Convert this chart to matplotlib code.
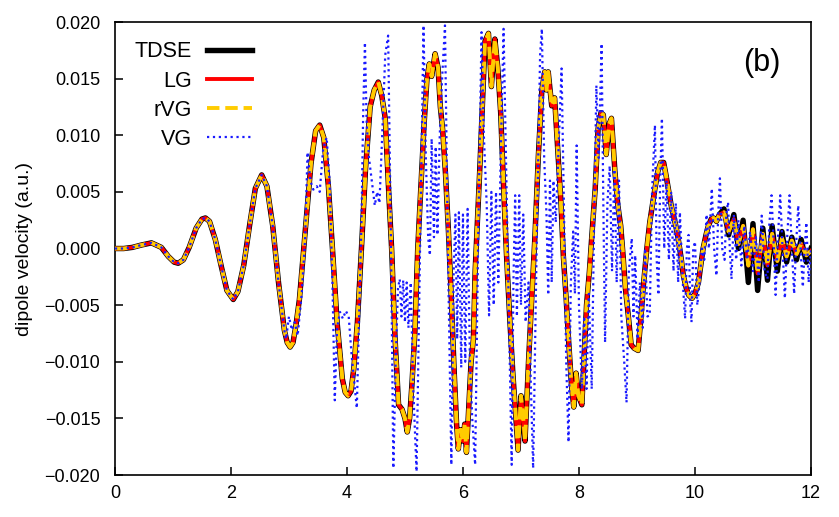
import numpy as np
import matplotlib.pyplot as plt
from matplotlib.ticker import FuncFormatter

plt.rcParams['font.family'] = ['Liberation Sans', 'DejaVu Sans']

# shared slow part of TDSE / LG / rVG (time, dipole velocity)
t_main = [0.00, 0.15, 0.30, 0.45, 0.63, 0.80, 0.92, 1.02, 1.09, 1.18, 1.28, 1.40, 1.50, 1.56,
          1.63, 1.73, 1.83, 1.93, 2.04, 2.12, 2.22, 2.32, 2.42, 2.53, 2.62, 2.72, 2.82, 2.92,
          2.97, 3.02, 3.07, 3.12, 3.18, 3.28, 3.38, 3.46, 3.53, 3.60, 3.68, 3.75, 3.83, 3.92,
          3.97, 4.02, 4.07, 4.12, 4.18, 4.25, 4.32, 4.40, 4.47, 4.54, 4.60, 4.66, 4.72, 4.77,
          4.83, 4.89, 4.95, 5.00, 5.04, 5.08, 5.12, 5.17, 5.22, 5.28, 5.33, 5.38, 5.42, 5.46,
          5.52, 5.57, 5.61, 5.65, 5.70, 5.75, 5.80, 5.85, 5.89, 5.92, 5.96, 6.00, 6.03, 6.06,
          6.10, 6.14, 6.18, 6.21, 6.25, 6.29, 6.33, 6.38, 6.44, 6.49, 6.55, 6.60, 6.65, 6.70,
          6.75, 6.81, 6.86, 6.90, 6.95, 7.00, 7.04, 7.07, 7.10, 7.13, 7.18, 7.24, 7.30, 7.36,
          7.41, 7.44, 7.47, 7.53, 7.58, 7.64, 7.69, 7.73, 7.78, 7.82, 7.87, 7.91, 7.95, 7.99,
          8.05, 8.09, 8.13, 8.18, 8.22, 8.28, 8.33, 8.38, 8.42, 8.47, 8.52, 8.56, 8.62, 8.67,
          8.72, 8.76, 8.80, 8.85, 8.90, 8.95, 9.02, 9.07, 9.11, 9.17, 9.22, 9.27, 9.31, 9.36,
          9.41, 9.46, 9.50, 9.54, 9.59, 9.63, 9.67, 9.71, 9.76, 9.80, 9.85, 9.89, 9.95, 10.00,
          10.06, 10.10, 10.14, 10.19, 10.23, 10.28, 10.32, 10.37, 10.42]
d_main = [0.0000, 0.0000, 0.0001, 0.0003, 0.0005, 0.0001, -0.0007, -0.0012, -0.0013, -0.0010,
          0.0001, 0.0018, 0.0026, 0.0027, 0.0024, 0.0008, -0.0015, -0.0037, -0.0045, -0.0038,
          -0.0015, 0.0020, 0.0053, 0.0065, 0.0055, 0.0020, -0.0030, -0.0072, -0.0083, -0.0087,
          -0.0083, -0.0068, -0.0045, 0.0015, 0.0075, 0.0104, 0.0109, 0.0098, 0.0055, 0.0000,
          -0.0065, -0.0115, -0.0127, -0.0130, -0.0126, -0.0105, -0.0065, 0.0000, 0.0070, 0.0125,
          0.0140, 0.0147, 0.0135, 0.0115, 0.0050, 0.0000, -0.0080, -0.0138, -0.0142, -0.0150,
          -0.0162, -0.0150, -0.0120, -0.0075, 0.0000, 0.0060, 0.0110, 0.0150, 0.0163, 0.0152,
          0.0172, 0.0160, 0.0125, 0.0105, 0.0065, 0.0015, -0.0045, -0.0110, -0.0155, -0.0177,
          -0.0160, -0.0170, -0.0155, -0.0180, -0.0140, -0.0100, -0.0080, -0.0020, 0.0025, 0.0070,
          0.0120, 0.0183, 0.0190, 0.0143, 0.0185, 0.0160, 0.0120, 0.0055, -0.0005, -0.0065,
          -0.0110, -0.0140, -0.0178, -0.0130, -0.0150, -0.0170, -0.0135, -0.0100, -0.0050, 0.0010,
          0.0082, 0.0140, 0.0156, 0.0140, 0.0156, 0.0126, 0.0133, 0.0082, 0.0040, -0.0006,
          -0.0045, -0.0080, -0.0120, -0.0140, -0.0110, -0.0130, -0.0138, -0.0095, -0.0050, -0.0020,
          0.0010, 0.0053, 0.0106, 0.0120, 0.0118, 0.0083, 0.0110, 0.0115, 0.0068, 0.0038,
          0.0020, -0.0006, -0.0035, -0.0059, -0.0085, -0.0088, -0.0090, -0.0060, -0.0033, 0.0000,
          0.0023, 0.0040, 0.0053, 0.0068, 0.0076, 0.0076, 0.0065, 0.0053, 0.0038, 0.0029,
          0.0020, 0.0009, -0.0008, -0.0024, -0.0035, -0.0041, -0.0044, -0.0040, -0.0030, -0.0015,
          0.0000, 0.0012, 0.0020, 0.0026, 0.0027, 0.0024, 0.0030]

# tails after t = 10.5
t_tail = [10.50, 10.58, 10.67, 10.75, 10.83, 10.92, 11.00, 11.08, 11.17, 11.25, 11.33, 11.42,
          11.50, 11.58, 11.67, 11.75, 11.83, 11.92, 12.00]
tdse_tail = [0.0035, 0.0012, 0.0030, 0.0000, 0.0025, -0.0030, 0.0022, -0.0037, 0.0018, -0.0028,
             0.0020, -0.0020, 0.0015, -0.0012, 0.0010, -0.0010, 0.0008, -0.0012, 0.0000]
lg_tail = [0.0032, 0.0015, 0.0026, 0.0004, 0.0020, -0.0015, 0.0017, -0.0022, 0.0013, -0.0015,
           0.0013, -0.0011, 0.0009, -0.0007, 0.0007, -0.0005, 0.0004, -0.0006, -0.0002]

# velocity gauge: follows the others up to ~2.9, then strongly oscillating
t_vg = [2.95, 3.00, 3.05, 3.10, 3.15, 3.22, 3.28, 3.32, 3.37, 3.42, 3.48, 3.53, 3.59, 3.65,
        3.70, 3.75, 3.79, 3.83, 3.88, 3.93, 3.98, 4.03, 4.08, 4.13, 4.17, 4.21, 4.25, 4.28,
        4.31, 4.34, 4.38, 4.43, 4.48, 4.52, 4.56, 4.60, 4.66, 4.71, 4.76, 4.80, 4.84, 4.88,
        4.91, 4.94, 4.97, 5.00, 5.03, 5.06, 5.10, 5.14, 5.20, 5.26, 5.32, 5.36, 5.40, 5.43,
        5.46, 5.50, 5.53, 5.56, 5.60, 5.64, 5.69, 5.74, 5.80, 5.84, 5.87, 5.90, 5.93, 5.97,
        6.00, 6.04, 6.08, 6.12, 6.16, 6.21, 6.26, 6.32, 6.36, 6.41, 6.45, 6.49, 6.53, 6.57,
        6.61, 6.65, 6.70, 6.77, 6.84, 6.87, 6.90, 6.93, 6.97, 7.00, 7.04, 7.08, 7.13, 7.17,
        7.21, 7.27, 7.33, 7.36, 7.40, 7.44, 7.47, 7.50, 7.53, 7.56, 7.60, 7.65, 7.70, 7.74,
        7.78, 7.82, 7.86, 7.90, 7.93, 7.96, 8.00, 8.05, 8.09, 8.13, 8.17, 8.22, 8.26, 8.30,
        8.34, 8.39, 8.42, 8.45, 8.49, 8.53, 8.57, 8.61, 8.65, 8.69, 8.73, 8.78, 8.82, 8.86,
        8.91, 8.94, 8.97, 9.01, 9.05, 9.10, 9.14, 9.18, 9.22, 9.26, 9.31, 9.34, 9.37, 9.40,
        9.43, 9.47, 9.51, 9.55, 9.59, 9.63, 9.67, 9.71, 9.74, 9.79, 9.83, 9.86, 9.89, 9.92,
        9.94, 9.97, 10.00, 10.04, 10.08, 10.12, 10.16, 10.20, 10.24, 10.29, 10.33, 10.37,
        10.40, 10.43, 10.47, 10.51, 10.54, 10.57, 10.60, 10.63, 10.67, 10.71, 10.75, 10.80,
        10.85, 10.90, 10.95, 11.00, 11.05, 11.10, 11.15, 11.20, 11.25, 11.28, 11.32, 11.36,
        11.39, 11.43, 11.47, 11.51, 11.55, 11.59, 11.63, 11.67, 11.71, 11.74, 11.78, 11.82,
        11.86, 11.89, 11.92, 11.96, 12.00]
d_vg = [-0.0080, -0.0060, -0.0072, -0.0065, -0.0077, -0.0040, 0.0010, 0.0085, 0.0060, 0.0052,
        0.0055, 0.0050, 0.0088, 0.0098, 0.0060, -0.0030, -0.0134, -0.0070, -0.0056, -0.0062,
        -0.0055, -0.0060, -0.0094, -0.0120, -0.0141, -0.0060, 0.0023, 0.0120, 0.0182, 0.0110,
        0.0080, 0.0059, 0.0038, 0.0050, 0.0040, 0.0090, 0.0171, 0.0188, 0.0000, -0.0194,
        -0.0100, -0.0035, -0.0027, -0.0060, -0.0028, -0.0065, -0.0030, -0.0070, -0.0030, -0.0120,
        -0.0197, 0.0000, 0.0197, 0.0080, 0.0010, -0.0006, 0.0097, 0.0010, 0.0090, 0.0012,
        0.0100, 0.0150, 0.0197, 0.0000, -0.0191, -0.0020, 0.0030, -0.0080, 0.0032, -0.0105,
        0.0030, -0.0100, 0.0035, -0.0100, -0.0150, -0.0191, 0.0000, 0.0191, 0.0100, 0.0038,
        -0.0059, 0.0050, -0.0050, 0.0050, -0.0030, 0.0080, 0.0194, 0.0000, -0.0191, -0.0030,
        0.0047, -0.0060, 0.0047, -0.0050, 0.0030, -0.0065, -0.0030, -0.0120, -0.0194, 0.0000,
        0.0171, 0.0194, 0.0080, 0.0030, -0.0041, 0.0060, -0.0030, 0.0060, 0.0023, 0.0090,
        0.0159, 0.0040, -0.0100, -0.0171, -0.0030, 0.0015, -0.0040, 0.0091, -0.0050, -0.0124,
        -0.0060, -0.0124, -0.0040, -0.0124, 0.0020, 0.0144, 0.0080, 0.0181, 0.0040, -0.0083,
        0.0040, 0.0073, -0.0020, 0.0070, -0.0030, 0.0060, -0.0060, -0.0100, -0.0136, -0.0020,
        0.0009, -0.0060, -0.0006, -0.0080, -0.0030, -0.0070, 0.0000, -0.0060, -0.0059, 0.0050,
        0.0109, -0.0010, -0.0041, 0.0060, 0.0115, 0.0000, 0.0060, -0.0010, 0.0050, -0.0020,
        0.0040, -0.0030, 0.0032, -0.0030, -0.0062, 0.0000, 0.0012, -0.0050, -0.0065, 0.0000,
        0.0006, -0.0050, -0.0030, 0.0000, -0.0010, 0.0030, 0.0000, 0.0053, 0.0000, -0.0024,
        0.0030, 0.0062, 0.0000, -0.0010, 0.0030, 0.0041, 0.0000, -0.0027, 0.0030, -0.0010,
        0.0025, -0.0015, 0.0020, -0.0010, 0.0015, -0.0020, 0.0010, -0.0030, 0.0029, -0.0020,
        -0.0027, 0.0020, 0.0047, 0.0000, -0.0041, 0.0010, 0.0047, 0.0000, -0.0044, 0.0010,
        0.0047, 0.0000, -0.0040, 0.0000, 0.0038, 0.0000, -0.0034, 0.0000, 0.0023, -0.0030,
        0.0000]

labels = ['TDSE', 'LG', 'rVG', 'VG']
xticks = [0, 2, 4, 6, 8, 10, 12]
yticks = [-0.020, -0.015, -0.010, -0.005, 0.000, 0.005, 0.010, 0.015, 0.020]

t_tdse = np.array(t_main + t_tail)
d_tdse = np.array(d_main + tdse_tail)
t_lg = np.array(t_main + t_tail)
d_lg = np.array(d_main + lg_tail)
# VG: same as the others before 2.95
n0 = sum(1 for t in t_main if t < 2.95)
t_v = np.array(t_main[:n0] + t_vg)
d_v = np.array(d_main[:n0] + d_vg)

fig = plt.figure(figsize=(8.39, 5.17), dpi=100)
ax = fig.add_axes([0.137, 0.0812, 0.8296, 0.8762])

ax.plot(t_tdse, d_tdse, color='black', lw=3.9, label=labels[0], zorder=2)
ax.plot(t_lg, d_lg, color='#ff0000', lw=2.8, label=labels[1], zorder=3)
ax.plot(t_lg, d_lg, color='#ffcc00', lw=2.8, dashes=(3.2, 1.5), label=labels[2], zorder=4)
ax.plot(t_v, d_v, color='#1a1aff', lw=1.6, ls=':', label=labels[3], zorder=5)

ax.set_xlim(0, 12)
ax.set_ylim(-0.02, 0.02)
ax.set_xticks(xticks)
ax.set_yticks(yticks)
ax.yaxis.set_major_formatter(FuncFormatter(lambda v, p: f"{v:.3f}".replace('-', '\u2212')))
ax.tick_params(direction='in', length=6, width=1.1, labelsize=13, top=False, right=False)
ax.tick_params(axis='y', pad=10.5)
ax.tick_params(axis='x', pad=7)
for s in ax.spines.values():
    s.set_linewidth(1.2)
ax.set_ylabel('dipole velocity (a.u.)', fontsize=14, labelpad=8)

ax.text(0.93, 0.91, '(b)', transform=ax.transAxes, fontsize=22, ha='center', va='center')

ax.legend(loc='upper left', bbox_to_anchor=(0.0, 1.0), frameon=False, markerfirst=False,
          fontsize=15.5, handlelength=2.1, labelspacing=0.38, handletextpad=0.7)

fig.savefig('out.png', dpi=100)
